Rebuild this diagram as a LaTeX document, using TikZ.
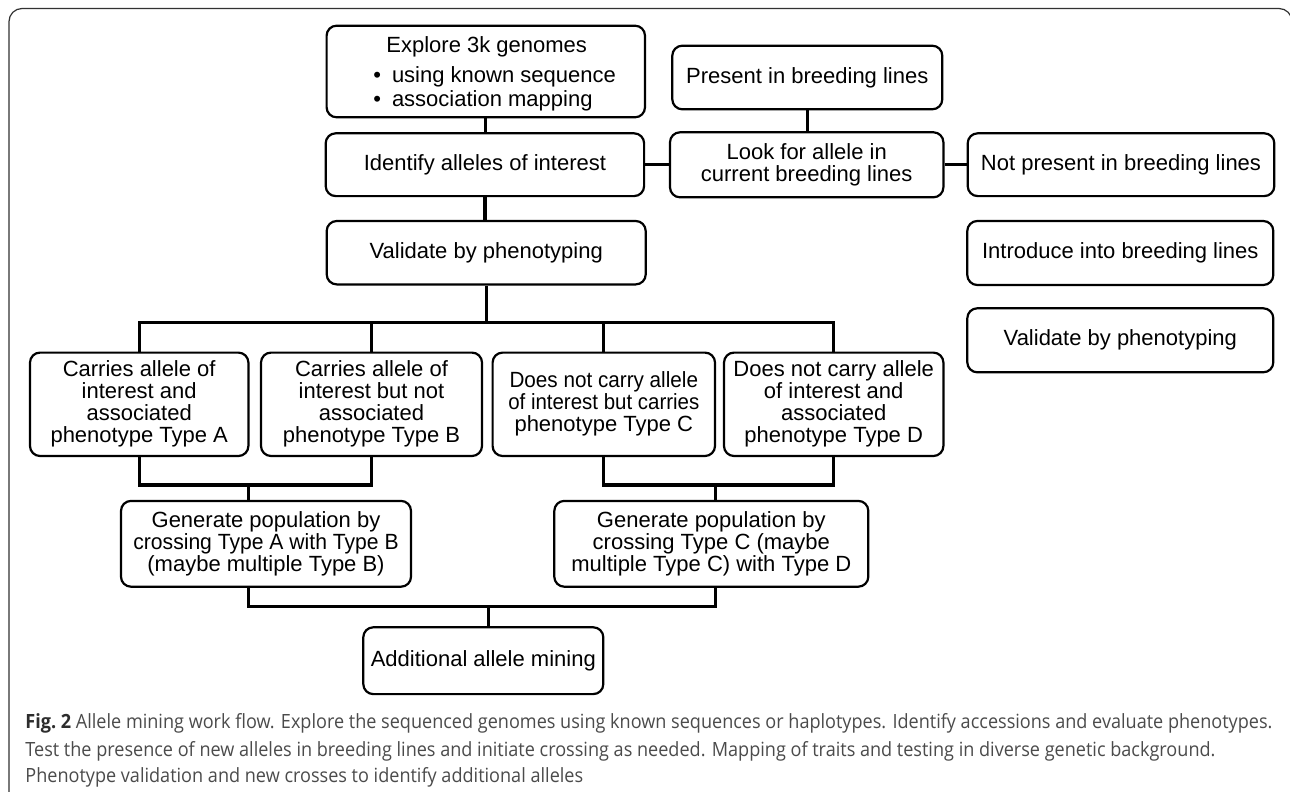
\documentclass[tikz,border=0pt]{standalone}
\usepackage{fontspec}
\setmainfont{Liberation Sans}
\newfontfamily\capfont{Open Sans}
\usepackage{graphicx}
\usetikzlibrary{calc}
\definecolor{captext}{RGB}{75,75,75}
\definecolor{capbold}{RGB}{45,45,45}
\definecolor{framecol}{RGB}{50,50,50}
\newsavebox\capsave
\newlength\capnat
\tikzset{
  box/.style={draw=black, line width=1.1pt, rounded corners=5pt, align=center,
    inner sep=0pt, font=\fontsize{11pt}{11pt}\selectfont},
  lbl/.style={inner sep=0pt, font=\fontsize{11pt}{11pt}\selectfont},
  conn/.style={draw=black, line width=1.65pt, line join=miter, line cap=butt},
  captxt/.style={inner sep=0pt, anchor=base west, text=captext}
}
\begin{document}
\sbox\capsave{\capfont\fontsize{9.8pt}{12pt}\selectfont{\color{capbold}\bfseries Fig.~2}\ \color{captext}Allele mining work flow. Explore the sequenced genomes using known sequences or haplotypes. Identify accessions and evaluate phenotypes.}%
\global\capnat=\wd\capsave
\pgfmathsetmacro\capr{623.5/\capnat}%
\xdef\capr{\capr}%
\begin{tikzpicture}[x=0.5pt,y=-0.5pt]
\clip (0,0) rectangle (1290,792);
\fill[white] (0,0) rectangle (1290,792);
\draw[framecol, line width=0.6pt, rounded corners=6.5pt] (9,8.5) rectangle (1292,830);

% main column
\node[box, minimum width=159.2pt, minimum height=45.8pt] (explore) at (485.8,71.5) {};
\node[lbl, anchor=base] (exploreT) at (486.7,52.3) {Explore 3k genomes};
\node[lbl, anchor=base west] (exploreB1) at (372.9,82.7) {\textbullet\hspace{5.5pt}using known sequence};
\node[lbl, anchor=base west] (exploreB2) at (372.9,106) {\textbullet\hspace{5.5pt}association mapping};

\node[box, minimum width=159.2pt, minimum height=31.4pt] (identify) at (484.9,164.7) {Identify alleles of interest};
\node[box, minimum width=159.5pt, minimum height=31.7pt] (validate) at (486.2,252.7) {Validate by phenotyping};

% right part
\node[box, minimum width=135pt, minimum height=31.8pt] (present) at (807.3,77.5) {Present in breeding lines};
\node[box, minimum width=136.7pt, minimum height=32.5pt] (lookfor) at (806.7,164.8) {Look for allele in\\current breeding lines};
\node[box, minimum width=153.3pt, minimum height=31.4pt] (notpresent) at (1121,164.7) {Not present in breeding lines};
\node[box, minimum width=153pt, minimum height=32pt] (introduce) at (1120.3,253) {Introduce into breeding lines};
\node[box, minimum width=153pt, minimum height=32pt] (validate2) at (1120.3,340.3) {Validate by phenotyping};

% types
\node[box, minimum width=109.2pt, minimum height=51.7pt] (typeA) at (139.2,404.3) {Carries allele of\\interest and\\associated\\phenotype Type A};
\node[box, minimum width=110.5pt, minimum height=51.7pt] (typeB) at (371.5,404.3) {Carries allele of\\interest but not\\associated\\phenotype Type B};
\node[box, minimum width=111.2pt, minimum height=51.7pt] (typeC) at (603.8,404.3) {\scalebox{0.94}[1]{Does not carry allele}\\\scalebox{0.93}[1]{of interest but carries}\\phenotype Type C};
\node[box, minimum width=109.7pt, minimum height=51.7pt] (typeD) at (833.7,404.3) {Does not carry allele\\of interest and\\associated\\phenotype Type D};

\node[box, minimum width=145pt, minimum height=42.9pt] (genAB) at (266,543.8) {Generate population by\\\scalebox{0.96}[1]{crossing Type A with Type B}\\(maybe multiple Type B)};
\node[box, minimum width=157pt, minimum height=42.9pt] (genCD) at (711.3,543.8) {Generate population by\\crossing Type C (maybe\\multiple Type C) with Type D};
\node[box, minimum width=120pt, minimum height=33.4pt] (additional) at (483.3,660.7) {\raisebox{1.2pt}{Additional allele mining}};

% connectors
\coordinate (bus) at (0,322.7);
\coordinate (j1) at (0,485);
\coordinate (j2) at (0,606.7);
\draw[conn] (explore.south) -- (explore.south |- identify.north);
\draw[conn] (identify.south) -- (identify.south |- validate.north);
\draw[conn] (identify.east) -- (identify.east -| lookfor.west);
\draw[conn] (lookfor.east) -- (lookfor.east -| notpresent.west);
\draw[conn] (present.south) -- (present.south |- lookfor.north);

\draw[conn] (validate.south) -- (validate.south |- bus);
\draw[conn] (typeA.north) |- (typeD.north |- bus) -- (typeD.north);
\draw[conn] (typeB.north) -- (typeB.north |- bus);
\draw[conn] (typeC.north) -- (typeC.north |- bus);

\draw[conn] (typeA.south) |- (typeB.south |- j1) -- (typeB.south);
\draw[conn] ([xshift=-8.85pt]genAB.north) -- ([xshift=-8.85pt]genAB.north |- j1);
\draw[conn] (typeC.south) |- (typeD.south |- j1) -- (typeD.south);
\draw[conn] ([xshift=2.2pt]genCD.north) -- ([xshift=2.2pt]genCD.north |- j1);

\draw[conn] ([xshift=-8.85pt]genAB.south) |- ([xshift=2.2pt]genCD.south |- j2) -- ([xshift=2.2pt]genCD.south);
\draw[conn] ([xshift=2.5pt]additional.north) -- ([xshift=2.5pt]additional.north |- j2);

% caption
\node[captxt] (cap1) at (25,728.3) {\scalebox{\capr}[1]{\usebox\capsave}};
\node[captxt] (cap2) at (25,756) {\scalebox{\capr}[1]{\capfont\fontsize{9.8pt}{12pt}\selectfont Test the presence of new alleles in breeding lines and initiate crossing as needed. Mapping of traits and testing in diverse genetic background.}};
\node[captxt] (cap3) at (25,782.7) {\scalebox{\capr}[1]{\capfont\fontsize{9.8pt}{12pt}\selectfont Phenotype validation and new crosses to identify additional alleles}};
\end{tikzpicture}
\end{document}
